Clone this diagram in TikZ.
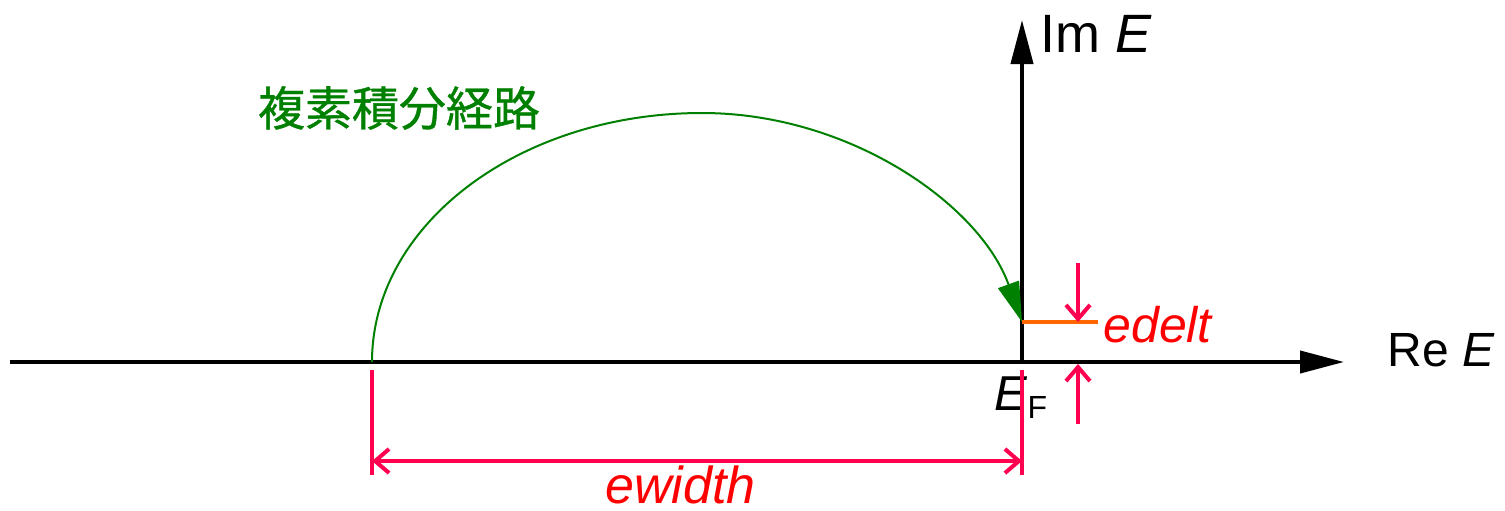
\documentclass[tikz,border=0pt]{standalone}
\usepackage{fontspec}
\setmainfont{Liberation Sans}
\newfontfamily\cjk[FakeBold=0.8]{Noto Sans CJK JP}
\usetikzlibrary{arrows.meta}
\definecolor{pathgreen}{RGB}{0,128,0}
\definecolor{dimred}{RGB}{255,0,80}
\definecolor{labelred}{RGB}{255,0,0}
\definecolor{deltaorange}{RGB}{255,102,0}
\tikzset{
  axis/.style={line width=2pt,-{Triangle[length=22pt,width=11pt]}},
  dimline/.style={dimred,line width=2pt},
  dimtip/.style={dimline,-{Straight Barb[length=7pt,width=12pt]}},
  redlabel/.style={labelred,anchor=base west,inner sep=0pt,font=\fontsize{25}{28}\selectfont\itshape},
  axislabel/.style={anchor=base west,inner sep=0pt},
}
\begin{document}
\begin{tikzpicture}[x=0.5pt,y=-0.5pt]
        \useasboundingbox (0,0) rectangle (1505,510);
        % assi
        \coordinate (W) at (10,362);\coordinate (EF) at (1022,362);
        \coordinate (Xend) at (1344,362);\coordinate (Yend) at (1022,20);
        \draw [axis] (W) -- (Xend);
        \draw [axis] (EF) -- (Yend);
        \node [axislabel,font=\fontsize{24}{28}\selectfont] (reE) at (1387,366) {Re \textit{E}};
        \node [axislabel,font=\fontsize{27}{30}\selectfont] (imE) at (1040,52) {Im \textit{E}};
        \node [axislabel,font=\fontsize{24.5}{28}\selectfont] (efl) at (994,410) {\textit{E}\raisebox{-4pt}{\fontsize{16}{16}\selectfont F}};
        % cammino
        \coordinate (Start) at (372,362);\coordinate (Top) at (702,113);\coordinate (Delta) at (1022,322);
        \draw [pathgreen,line width=1pt,-{Triangle[length=20pt,width=11pt]}] (Start) .. controls (372,224) and (520,113) .. (Top) .. controls (850,113) and (980,205) .. (Delta);
        \node [pathgreen,font=\cjk\fontsize{23.5}{26}\selectfont] (path) at (399,108) {複素積分経路};
        % edelt
        \coordinate (DeltaEnd) at (1098,322);
        \draw [deltaorange,line width=2pt] (Delta) -- (DeltaEnd);
        \coordinate (dtop) at (1078,263);\coordinate (dtip) at (1078,322);
        \coordinate (ubot) at (1078,424);\coordinate (utip) at (1078,364);
        \draw [dimtip] (dtop) -- (dtip);
        \draw [dimtip] (ubot) -- (utip);
        \node [redlabel] (edelt) at (1103,342) {edelt};
        % ewidth
        \coordinate (a1) at (372,370);\coordinate (a2) at (372,475);
        \coordinate (b1) at (1022,370);\coordinate (b2) at (1022,475);
        \draw [dimline] (a1) -- (a2);
        \draw [dimline] (b1) -- (b2);
        \coordinate (la) at (372,461);\coordinate (lb) at (1022,461);
        \draw [dimtip,{Straight Barb[length=7pt,width=12pt]}-{Straight Barb[length=7pt,width=12pt]}] (la) -- (lb);
        \node [redlabel,font=\fontsize{26}{28}\selectfont\itshape] (ewidth) at (605,503) {ewidth};
\end{tikzpicture}
\end{document}
